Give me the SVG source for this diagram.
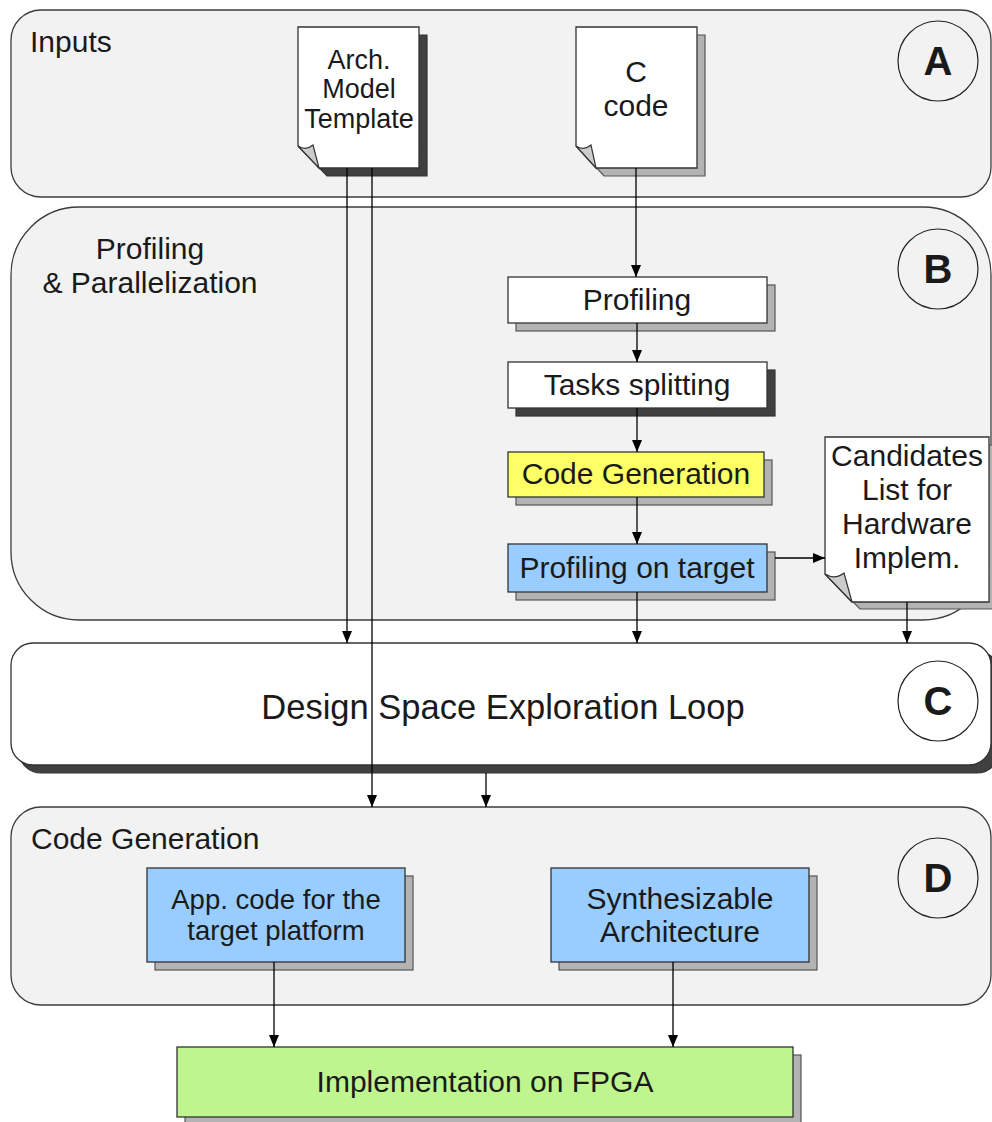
<svg xmlns="http://www.w3.org/2000/svg" width="992" height="1122" viewBox="0 0 992 1122">
<defs>
<marker id="arr" markerWidth="12" markerHeight="10" refX="12" refY="5" orient="auto" markerUnits="userSpaceOnUse">
<path d="M0,0 L12,5 L0,10 Z" fill="#000"/>
</marker>
</defs>
<style>
.panel{fill:#f2f2f2;stroke:#3c3c3c;stroke-width:1.3}
.box{stroke:#333;stroke-width:1.3}
.sh-l{fill:#b3b3b3;stroke:#555;stroke-width:1.2}
.sh-d{fill:#404040;stroke:#333;stroke-width:1.2}
.doc{fill:#fff;stroke:#333;stroke-width:1.3}
.flap{fill:#ccc;stroke:#333;stroke-width:1.2}
.t{font-family:"Liberation Sans",Arial,sans-serif;fill:#1a1a1a;font-size:30px}
.c{text-anchor:middle}
.lbl{font-family:"Liberation Sans",Arial,sans-serif;font-weight:bold;font-size:40px;fill:#1a1a1a;text-anchor:middle}
.circ{fill:none;stroke:#222;stroke-width:1.2}
.conn{stroke:#000;stroke-width:1.3;fill:none}
</style>
<rect width="992" height="1122" fill="#fff"/>

<g id="panelA">
<rect class="panel" x="11" y="10" width="980" height="187" rx="30" ry="30"/>
<text class="t" x="30" y="52">Inputs</text>
<circle class="circ" cx="938" cy="61" r="40"/>
<text class="lbl" x="938" y="75">A</text>
</g>

<g id="panelB">
<rect class="panel" x="11" y="207" width="980" height="413" rx="68" ry="68"/>
<text class="t c" x="150" y="259">Profiling</text>
<text class="t c" x="150" y="293">&amp; Parallelization</text>
<circle class="circ" cx="938" cy="269" r="40"/>
<text class="lbl" x="938" y="283">B</text>
</g>

<g id="panelC">
<rect class="sh-d" x="19" y="651" width="980" height="122" rx="22" ry="22"/>
<rect x="11" y="643" width="980" height="122" rx="22" ry="22" fill="#fff" stroke="#333" stroke-width="1.3"/>
<text class="t c" x="503" y="719" style="font-size:34.5px">Design Space Exploration Loop</text>
<circle class="circ" cx="938" cy="701" r="40"/>
<text class="lbl" x="938" y="715">C</text>
</g>

<g id="panelD">
<rect class="panel" x="11" y="807" width="980" height="198" rx="30" ry="30"/>
<text class="t" x="31" y="849">Code Generation</text>
<circle class="circ" cx="938" cy="878" r="40"/>
<text class="lbl" x="938" y="892">D</text>
</g>

<g id="archModel">
<path class="sh-d" d="M306,35 H427 V176 H327 L306,154 Z"/>
<path class="doc" d="M298,27 H419 V168 H319 L298,146 Z"/>
<path class="flap" d="M298,146 Q306,151 313,145 L319,168 Z"/>
<text class="t c" x="359" y="69" style="font-size:27px">Arch.</text>
<text class="t c" x="359" y="98" style="font-size:27px">Model</text>
<text class="t c" x="359" y="128" style="font-size:27px">Template</text>
</g>

<g id="cCode">
<path class="sh-l" d="M584,35 H705 V176 H604 L584,154 Z"/>
<path class="doc" d="M576,27 H697 V168 H596 L576,146 Z"/>
<path class="flap" d="M576,146 Q584,151 591,145 L596,168 Z"/>
<text class="t c" x="636" y="82">C</text>
<text class="t c" x="636" y="116">code</text>
</g>

<g id="profiling">
<rect class="sh-l" x="516" y="285" width="259" height="46"/>
<rect class="box" x="508" y="277" width="259" height="46" fill="#fff"/>
<text class="t c" x="637" y="310">Profiling</text>
</g>

<g id="tasksSplitting">
<rect class="sh-d" x="516" y="370" width="259" height="46"/>
<rect class="box" x="508" y="362" width="259" height="46" fill="#fff"/>
<text class="t c" x="637" y="395">Tasks splitting</text>
</g>

<g id="codeGeneration">
<rect class="sh-l" x="516" y="460" width="256" height="45"/>
<rect class="box" x="508" y="452" width="256" height="45" fill="#ffff66"/>
<text class="t c" x="636" y="484">Code Generation</text>
</g>

<g id="profilingTarget">
<rect class="sh-l" x="516" y="552" width="259" height="48"/>
<rect class="box" x="508" y="544" width="259" height="48" fill="#99ccff"/>
<text class="t c" x="637" y="578">Profiling on target</text>
</g>

<g id="candidates">
<path class="sh-l" d="M833,445 H997 V609 H860 L833,582 Z"/>
<path class="doc" d="M825,437 H989 V602 H852 L825,574 Z"/>
<path class="flap" d="M825,574 Q835,580 844,573 L852,602 Z"/>
<text class="t c" x="907" y="466">Candidates</text>
<text class="t c" x="907" y="500">List for</text>
<text class="t c" x="907" y="534">Hardware</text>
<text class="t c" x="907" y="568">Implem.</text>
</g>

<g id="appCode">
<rect class="sh-l" x="155" y="876" width="258" height="94"/>
<rect class="box" x="147" y="868" width="258" height="94" fill="#99ccff"/>
<text class="t c" x="276" y="909" style="font-size:27.5px">App. code for the</text>
<text class="t c" x="276" y="940" style="font-size:27.5px">target platform</text>
</g>

<g id="synthArch">
<rect class="sh-l" x="559" y="876" width="258" height="94"/>
<rect class="box" x="551" y="868" width="258" height="94" fill="#99ccff"/>
<text class="t c" x="680" y="909">Synthesizable</text>
<text class="t c" x="680" y="942">Architecture</text>
</g>

<g id="fpga">
<rect class="sh-l" x="185" y="1055" width="616" height="70"/>
<rect class="box" x="177" y="1047" width="616" height="70" fill="#bff58f"/>
<text class="t c" x="485" y="1092">Implementation on FPGA</text>
</g>

<g id="connectors">
<path class="conn" d="M636,168 V277" marker-end="url(#arr)"/>
<path class="conn" d="M637,323 V362" marker-end="url(#arr)"/>
<path class="conn" d="M637,408 V452" marker-end="url(#arr)"/>
<path class="conn" d="M637,497 V544" marker-end="url(#arr)"/>
<path class="conn" d="M775,558 H825" marker-end="url(#arr)"/>
<path class="conn" d="M637,592 V643" marker-end="url(#arr)"/>
<path class="conn" d="M907,602 V643" marker-end="url(#arr)"/>
<path class="conn" d="M347,168 V643" marker-end="url(#arr)"/>
<path class="conn" d="M372,168 V807" marker-end="url(#arr)"/>
<path class="conn" d="M486,773 V807" marker-end="url(#arr)"/>
<path class="conn" d="M274,962 V1047" marker-end="url(#arr)"/>
<path class="conn" d="M673,962 V1047" marker-end="url(#arr)"/>
</g>
</svg>
